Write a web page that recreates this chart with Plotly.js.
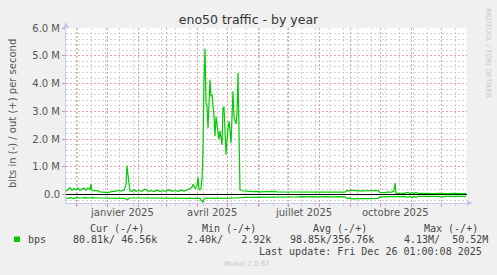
<!DOCTYPE html>
<html>
<head>
<meta charset="utf-8">
<script src="https://cdn.plot.ly/plotly-3.0.1.min.js"></script>
<style>
html,body{margin:0;padding:0;background:#f0f0f0;}
#chart{width:497px;height:275px;}
</style>
</head>
<body>
<div id="chart"></div>
<script>
// ---- data (values in M bits per second) ----
const dates = [
 '2024-11-21','2024-11-23','2024-11-25','2024-11-27','2024-11-29','2024-12-01','2024-12-03','2024-12-05','2024-12-07','2024-12-09',
 '2024-12-11','2024-12-13','2024-12-15','2024-12-16','2024-12-17','2024-12-19','2024-12-22','2024-12-25','2024-12-28','2024-12-31',
 '2025-01-03','2025-01-06','2025-01-09','2025-01-12','2025-01-15','2025-01-18','2025-01-20','2025-01-21','2025-01-22','2025-01-24',
 '2025-01-26','2025-01-28','2025-01-30','2025-02-02','2025-02-05','2025-02-08','2025-02-11','2025-02-14','2025-02-17','2025-02-20',
 '2025-02-23','2025-02-26','2025-03-01','2025-03-04','2025-03-07','2025-03-10','2025-03-13','2025-03-16','2025-03-19','2025-03-22',
 '2025-03-25','2025-03-27','2025-03-28','2025-03-30','2025-04-01','2025-04-02','2025-04-03','2025-04-04','2025-04-05','2025-04-06',
 '2025-04-07','2025-04-08','2025-04-09','2025-04-10','2025-04-11','2025-04-12','2025-04-14','2025-04-15','2025-04-16','2025-04-18',
 '2025-04-19','2025-04-20','2025-04-21','2025-04-22','2025-04-23','2025-04-24','2025-04-26','2025-04-27','2025-04-28','2025-04-29',
 '2025-04-30','2025-05-02','2025-05-03','2025-05-04','2025-05-05','2025-05-07','2025-05-08','2025-05-10','2025-05-11','2025-05-12',
 '2025-05-14','2025-05-16','2025-05-19','2025-05-23','2025-05-27','2025-05-31','2025-06-04','2025-06-08','2025-06-12','2025-06-16',
 '2025-06-20','2025-06-24','2025-06-28','2025-07-02','2025-07-06','2025-07-10','2025-07-14','2025-07-18','2025-07-22','2025-07-26',
 '2025-07-30','2025-08-03','2025-08-07','2025-08-11','2025-08-15','2025-08-19','2025-08-23','2025-08-27','2025-08-29','2025-08-31',
 '2025-09-02','2025-09-05','2025-09-09','2025-09-13','2025-09-17','2025-09-21','2025-09-25','2025-09-29','2025-10-01','2025-10-05',
 '2025-10-09','2025-10-11','2025-10-13','2025-10-15','2025-10-16','2025-10-17','2025-10-21','2025-10-25','2025-10-29','2025-10-31',
 '2025-11-02','2025-11-04','2025-11-06','2025-11-08','2025-11-12','2025-11-16','2025-11-20','2025-11-24','2025-11-28','2025-12-02',
 '2025-12-04','2025-12-08','2025-12-12','2025-12-16','2025-12-20','2025-12-24','2025-12-26'
];
const bpsOut = [
 0.12,0.18,0.25,0.16,0.22,0.17,0.24,0.15,0.21,0.23,
 0.16,0.24,0.18,0.38,0.15,0.14,0.15,0.10,0.08,0.08,
 0.08,0.12,0.12,0.15,0.13,0.16,0.35,1.05,0.70,0.13,
 0.12,0.18,0.12,0.15,0.12,0.20,0.13,0.14,0.11,0.16,
 0.12,0.14,0.13,0.18,0.12,0.15,0.12,0.16,0.13,0.17,
 0.21,0.27,0.38,0.22,0.32,0.62,0.20,0.18,0.22,0.60,
 1.60,4.10,5.25,3.30,3.20,2.40,4.14,3.54,3.60,2.82,
 2.10,2.80,2.50,2.30,2.00,2.30,1.80,3.13,3.15,2.30,
 1.44,2.40,2.64,2.30,1.85,3.72,2.78,2.55,2.90,4.38,
 0.18,0.14,0.12,0.12,0.11,0.12,0.10,0.11,0.10,0.12,
 0.10,0.10,0.09,0.10,0.09,0.10,0.09,0.10,0.08,0.08,
 0.09,0.08,0.08,0.09,0.08,0.08,0.08,0.09,0.15,0.13,
 0.16,0.14,0.14,0.14,0.14,0.14,0.14,0.15,0.08,0.07,
 0.10,0.08,0.10,0.14,0.42,0.05,0.05,0.05,0.08,0.04,
 0.07,0.05,0.08,0.05,0.05,0.04,0.05,0.04,0.05,0.04,
 0.05,0.04,0.05,0.04,0.05,0.04,0.05
];
const bpsIn = [
 -0.12,-0.13,-0.11,-0.12,-0.14,-0.11,-0.12,-0.13,-0.12,-0.11,
 -0.12,-0.13,-0.12,-0.12,-0.11,-0.12,-0.12,-0.12,-0.12,-0.12,
 -0.11,-0.12,-0.12,-0.11,-0.12,-0.13,-0.15,-0.18,-0.16,-0.12,
 -0.12,-0.11,-0.12,-0.12,-0.12,-0.11,-0.12,-0.12,-0.12,-0.12,
 -0.11,-0.12,-0.12,-0.12,-0.11,-0.12,-0.12,-0.12,-0.11,-0.12,
 -0.12,-0.12,-0.13,-0.12,-0.12,-0.13,-0.12,-0.13,-0.20,-0.24,
 -0.28,-0.16,-0.13,-0.12,-0.13,-0.12,-0.12,-0.13,-0.12,-0.12,
 -0.14,-0.12,-0.12,-0.13,-0.12,-0.12,-0.13,-0.12,-0.12,-0.12,
 -0.13,-0.12,-0.12,-0.12,-0.13,-0.12,-0.12,-0.12,-0.13,-0.12,
 -0.12,-0.11,-0.10,-0.10,-0.09,-0.10,-0.09,-0.08,-0.09,-0.08,
 -0.08,-0.08,-0.08,-0.08,-0.08,-0.08,-0.07,-0.08,-0.08,-0.07,
 -0.08,-0.08,-0.07,-0.08,-0.08,-0.07,-0.08,-0.08,-0.14,-0.12,
 -0.15,-0.14,-0.14,-0.14,-0.14,-0.14,-0.14,-0.13,-0.08,-0.07,
 -0.07,-0.07,-0.07,-0.07,-0.07,-0.07,-0.06,-0.06,-0.10,-0.06,
 -0.11,-0.06,-0.10,-0.06,-0.06,-0.06,-0.07,-0.06,-0.06,-0.09,
 -0.06,-0.06,-0.06,-0.06,-0.06,-0.06,-0.06
];
const yTickVals = [0, 1, 2, 3, 4, 5, 6];
const yTickText = ['0.0', '1.0 M', '2.0 M', '3.0 M', '4.0 M', '5.0 M', '6.0 M'];
const xLabelDates = ['2025-01-16', '2025-04-16', '2025-07-16', '2025-10-16'];
const xLabelText = ['janvier 2025', 'avril 2025', 'juillet 2025', 'octobre 2025'];
const legendHeader = ['Cur (-/+)', 'Min (-/+)', 'Avg (-/+)', 'Max (-/+)'];
const legendValues = ['80.81k/ 46.56k', '2.40k/   2.92k', '98.85k/356.76k', '4.13M/  50.52M'];
const seriesName = 'bps';
const lastUpdate = 'Last update: Fri Dec 26 01:00:08 2025';

// ---- geometry helpers (plot area: x 66..467, y 28..203) ----
const L = 66, R = 467, T = 28, B = 203;
const px = x => (x - L) / (R - L);
const py = y => (B - y) / (B - T);

const M = 1e6;
const green = '#00cc00';
const traces = [
  {x: dates, y: bpsOut.map(v => v * M), type: 'scatter', mode: 'lines', line: {color: green, width: 1.2}, name: 'out', hoverinfo: 'skip'},
  {x: dates, y: bpsIn.map(v => v * M), type: 'scatter', mode: 'lines', line: {color: green, width: 1.2}, name: 'in', hoverinfo: 'skip'}
];

const mono = {family: 'DejaVu Sans Mono', size: 10, color: '#444'};
const ann = [];
xLabelDates.forEach((d, i) => ann.push({xref: 'x', yref: 'paper', x: d, y: py(212), text: xLabelText[i], showarrow: false, xanchor: 'center', yanchor: 'middle', font: {family: 'DejaVu Sans', size: 10, color: '#555'}}));
const hdrX = [89, 201, 311.5, 422.5];
legendHeader.forEach((t, i) => ann.push({xref: 'paper', yref: 'paper', x: px(hdrX[i]), y: py(228), text: t, showarrow: false, xanchor: 'left', yanchor: 'middle', font: mono, borderpad: 0}));
const valX = [72, 186, 289, 403];
legendValues.forEach((t, i) => ann.push({xref: 'paper', yref: 'paper', x: px(valX[i]), y: py(239.5), text: t.replace(/ /g, '&nbsp;'), showarrow: false, xanchor: 'left', yanchor: 'middle', font: mono, borderpad: 0}));
ann.push({xref: 'paper', yref: 'paper', x: px(26.5), y: py(239.5), text: seriesName, showarrow: false, xanchor: 'left', yanchor: 'middle', font: mono, borderpad: 0});
ann.push({xref: 'paper', yref: 'paper', x: px(483), y: py(251), text: lastUpdate, showarrow: false, xanchor: 'right', yanchor: 'middle', font: mono, borderpad: 0});
ann.push({xref: 'paper', yref: 'paper', x: px(223), y: py(264), text: 'Munin 2.0.67', showarrow: false, xanchor: 'left', yanchor: 'middle', font: {family: 'DejaVu Sans', size: 7, color: '#c8c8c8'}, borderpad: 0});
ann.push({xref: 'paper', yref: 'paper', x: px(488), y: py(53), text: 'RRDTOOL / TOBI OETIKER', textangle: 90, showarrow: false, xanchor: 'center', yanchor: 'middle', font: {family: 'DejaVu Sans', size: 7, color: '#c8c8c8'}, borderpad: 0});
ann.push({xref: 'paper', yref: 'paper', x: px(12), y: py(114), text: 'bits in (-) / out (+) per second', textangle: -90, showarrow: false, xanchor: 'center', yanchor: 'middle', font: {family: 'DejaVu Sans', size: 10, color: '#555'}, borderpad: 0});

const axisBlue = '#c8c8f0';
const shapes = [
  {type: 'rect', xref: 'paper', yref: 'paper', x0: px(14), x1: px(20), y0: py(242), y1: py(236.5), fillcolor: green, line: {width: 0}},
  {type: 'path', xref: 'paper', yref: 'paper', xsizemode: 'pixel', ysizemode: 'pixel', xanchor: 0, yanchor: 1, path: 'M-3,0 L3,0 L0,6 Z', fillcolor: axisBlue, line: {width: 0}},
  {type: 'path', xref: 'paper', yref: 'paper', xsizemode: 'pixel', ysizemode: 'pixel', xanchor: 1, yanchor: 0, path: 'M0,-3 L0,3 L6,0 Z', fillcolor: axisBlue, line: {width: 0}}
];

const majorGrid = '#e6a2a2';
const minorGrid = '#d2d2d2';
const dotDash = '2px,2px';

const layout = {
  width: 497, height: 275,
  margin: {l: L, r: 497 - R, t: T, b: 275 - B, pad: 0},
  paper_bgcolor: '#f0f0f0', plot_bgcolor: '#ffffff',
  showlegend: false, hovermode: false,
  font: {family: 'DejaVu Sans', size: 10, color: '#555'},
  title: {text: 'eno50 traffic - by year', xref: 'container', x: 248.5 / 497, xanchor: 'center', yref: 'container', y: 1 - 19.5 / 275, yanchor: 'middle', font: {family: 'DejaVu Sans', size: 12.5, color: '#333'}},
  xaxis: {
    type: 'date', range: ['2024-11-21', '2025-12-27'], dtick: 'M1', tick0: '2024-12-01',
    showticklabels: false, showgrid: true, gridcolor: majorGrid, griddash: dotDash, gridwidth: 1,
    ticks: 'outside', ticklen: 3, tickcolor: '#e09090',
    showline: true, linecolor: axisBlue, linewidth: 1, zeroline: false, fixedrange: true,
    minor: {dtick: 14 * 86400000, tick0: '2024-12-02', showgrid: true, gridcolor: minorGrid, griddash: dotDash, gridwidth: 1, ticks: 'outside', ticklen: 2, tickcolor: '#cccccc'}
  },
  yaxis: {
    range: [-0.3 * M, 6.0 * M], tickmode: 'array', tickvals: yTickVals.map(v => v * M), ticktext: yTickText,
    showgrid: true, gridcolor: majorGrid, griddash: dotDash, gridwidth: 1,
    ticks: 'outside', ticklen: 3, tickcolor: '#e09090',
    tickfont: {family: 'DejaVu Sans', size: 10, color: '#555'},
    showline: true, linecolor: axisBlue, linewidth: 1,
    zeroline: true, zerolinecolor: '#000000', zerolinewidth: 1.6, fixedrange: true,
    minor: {dtick: 0.2 * M, tick0: 0, showgrid: true, gridcolor: minorGrid, griddash: dotDash, gridwidth: 1}
  },
  annotations: ann,
  shapes: shapes
};

Plotly.newPlot('chart', traces, layout, {displayModeBar: false, staticPlot: true});
</script>
</body>
</html>
